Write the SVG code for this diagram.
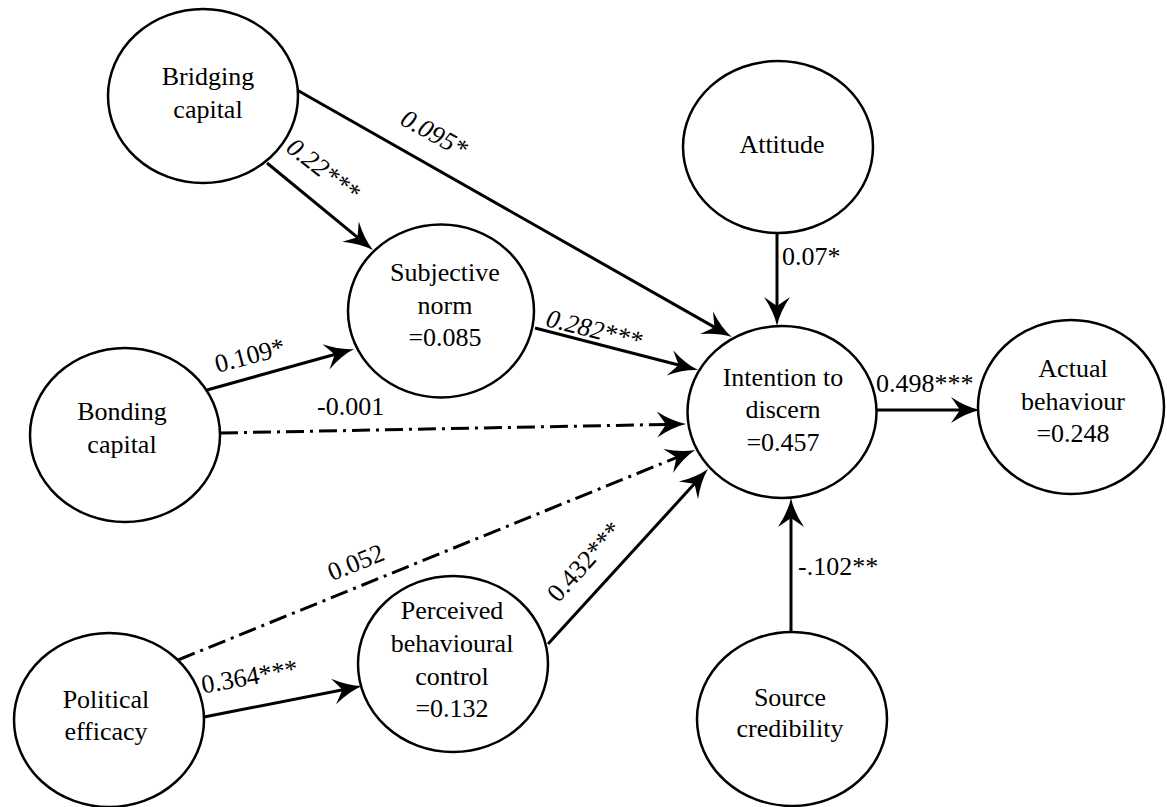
<svg xmlns="http://www.w3.org/2000/svg" width="1167" height="807" viewBox="0 0 1167 807">
<style>
  .node ellipse { fill: #ffffff; stroke: #000000; stroke-width: 2.5; }
  text { font-family: 'Liberation Serif', 'DejaVu Serif', 'Times New Roman', Times, serif; font-size: 26px; fill: #000000; }
  .node text { text-anchor: middle; }
  .edge { stroke: #000000; stroke-width: 3; fill: none; marker-end: url(#arrow); }
  .dashdot { stroke-dasharray: 18 6 3 6; }
  .it { font-style: italic; }
  .mid { text-anchor: middle; }
</style>
<defs>
  <marker id="arrow" markerUnits="userSpaceOnUse" markerWidth="40" markerHeight="40" refX="0" refY="0" orient="auto" overflow="visible">
    <path d="M9,0 Q-5,-3 -20,-13 L-11,0 L-20,13 Q-5,3 9,0 Z" fill="#000000"/>
  </marker>
</defs>
<rect width="1167" height="807" fill="#ffffff"/>

<g id="connectors">
  <line class="edge" x1="297" y1="90" x2="724" y2="332.6"/>
  <line class="edge" x1="267" y1="163" x2="366" y2="244.3"/>
  <line class="edge" x1="777" y1="233" x2="777" y2="317"/>
  <line class="edge" x1="535" y1="328" x2="689.3" y2="367.8"/>
  <line class="edge" x1="207" y1="390" x2="345.3" y2="351.5"/>
  <line class="edge dashdot" x1="220" y1="433" x2="677" y2="424.2"/>
  <line class="edge dashdot" x1="178" y1="660" x2="686.7" y2="453.4"/>
  <line class="edge" x1="204" y1="717" x2="353.2" y2="687.7"/>
  <line class="edge" x1="548" y1="644" x2="701.9" y2="475.6"/>
  <line class="edge" x1="791" y1="632" x2="791" y2="507"/>
  <line class="edge" x1="877" y1="410" x2="971" y2="410"/>
</g>

<g id="labels">
  <text class="it mid" transform="translate(434,134) rotate(29)" y="8">0.095*</text>
  <text class="it mid" transform="translate(323,170) rotate(38)" y="8">0.22***</text>
  <text x="782" y="265">0.07*</text>
  <text class="it mid" transform="translate(594,330) rotate(14)" y="8">0.282***</text>
  <text class="mid" transform="translate(250,356) rotate(-15)" y="8">0.109*</text>
  <text x="317" y="415">-0.001</text>
  <text x="876" y="392">0.498***</text>
  <text class="mid" transform="translate(356,563) rotate(-22)" y="8">0.052</text>
  <text class="mid" transform="translate(585,562) rotate(-48)" y="8">0.432***</text>
  <text class="mid" transform="translate(251,685) rotate(-10)" y="0">0.364***</text>
  <text x="798" y="575">-.102**</text>
</g>

<g id="bridging" class="node">
  <ellipse cx="203" cy="96" rx="95" ry="87"/>
  <text x="208" y="85">Bridging</text>
  <text x="208" y="118">capital</text>
</g>
<g id="attitude" class="node">
  <ellipse cx="778" cy="147" rx="95" ry="86"/>
  <text x="782" y="153">Attitude</text>
</g>
<g id="subjective" class="node">
  <ellipse cx="441" cy="311" rx="93" ry="86.5"/>
  <text x="445" y="281">Subjective</text>
  <text x="445" y="313.5">norm</text>
  <text x="445" y="346">=0.085</text>
</g>
<g id="bonding" class="node">
  <ellipse cx="125" cy="435" rx="95" ry="87"/>
  <text x="122" y="420">Bonding</text>
  <text x="122" y="453">capital</text>
</g>
<g id="intention" class="node">
  <ellipse cx="782" cy="412" rx="94.5" ry="86"/>
  <text x="783" y="386">Intention to</text>
  <text x="783" y="418">discern</text>
  <text x="783" y="451">=0.457</text>
</g>
<g id="actual" class="node">
  <ellipse cx="1071" cy="407" rx="93" ry="87"/>
  <text x="1073" y="377">Actual</text>
  <text x="1073" y="410">behaviour</text>
  <text x="1073" y="442">=0.248</text>
</g>
<g id="pbc" class="node">
  <ellipse cx="453" cy="664" rx="95" ry="88"/>
  <text x="452" y="619">Perceived</text>
  <text x="452" y="652">behavioural</text>
  <text x="452" y="685">control</text>
  <text x="452" y="717">=0.132</text>
</g>
<g id="political" class="node">
  <ellipse cx="109" cy="720" rx="95" ry="87"/>
  <text x="106" y="708">Political</text>
  <text x="106" y="740">efficacy</text>
</g>
<g id="source" class="node">
  <ellipse cx="792" cy="719" rx="95" ry="87"/>
  <text x="790" y="706">Source</text>
  <text x="790" y="737">credibility</text>
</g>
</svg>
